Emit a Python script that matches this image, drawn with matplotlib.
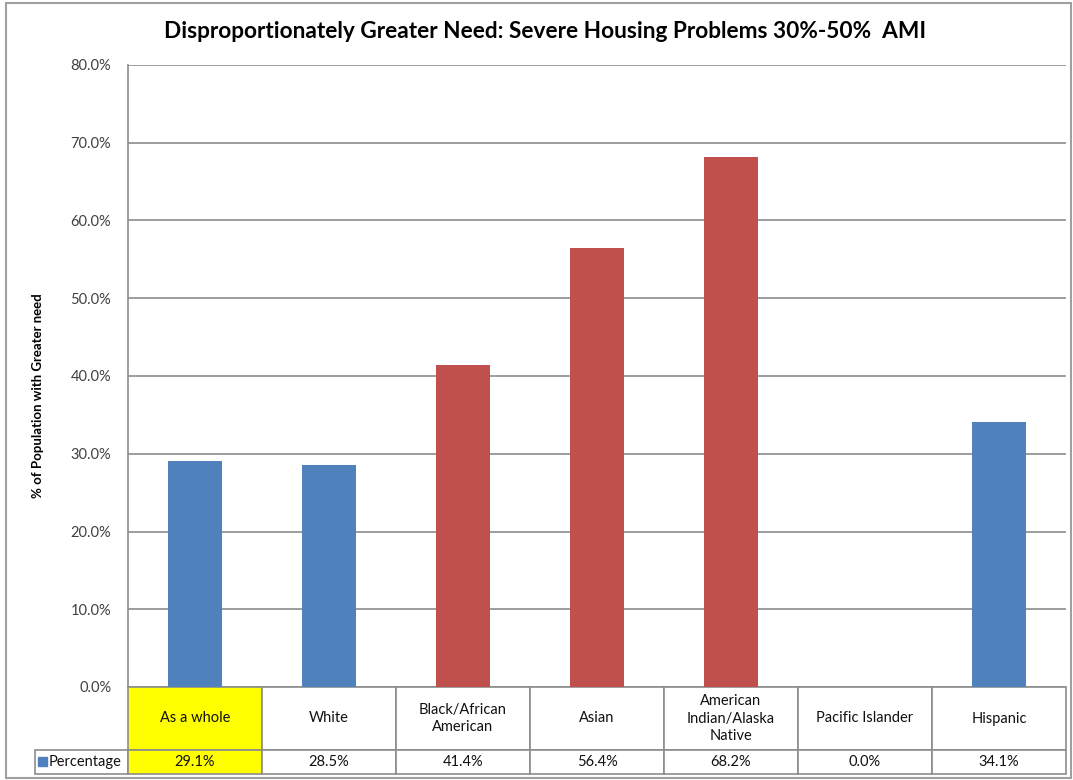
import matplotlib.pyplot as plt
from matplotlib.patches import Rectangle
from matplotlib.ticker import FuncFormatter

# --- Data ---
categories = ["As a whole", "White", "Black/African\nAmerican", "Asian",
              "American\nIndian/Alaska\nNative", "Pacific Islander", "Hispanic"]
values = [29.1, 28.5, 41.4, 56.4, 68.2, 0.0, 34.1]
bar_colors = ["#4F81BD", "#4F81BD", "#C0504D", "#C0504D", "#C0504D", "#4F81BD", "#4F81BD"]
series_name = "Percentage"
title = "Disproportionately Greater Need: Severe Housing Problems 30%-50%  AMI"
ylabel = "% of Population with Greater need"

plt.rcParams['font.family'] = ['Lato', 'DejaVu Sans']

W, H = 1073, 780
fig = plt.figure(figsize=(W / 100, H / 100), dpi=100)

# outer chart frame
fig.patches.append(Rectangle((6 / W, 2 / H), (W - 8) / W, (H - 5) / H,
                             transform=fig.transFigure, fill=False,
                             edgecolor="#A0A0A0", linewidth=1.5))

left, right, top, bottom = 128, 1066, 65, 687
ax = fig.add_axes([left / W, 1 - bottom / H, (right - left) / W, (bottom - top) / H])

x = list(range(len(categories)))
ax.bar(x, values, width=0.4, color=bar_colors, zorder=3)

ax.set_xlim(-0.5, len(categories) - 0.5)
ax.set_ylim(0, 80)
ax.set_yticks(range(0, 81, 10))
ax.yaxis.set_major_formatter(FuncFormatter(lambda v, p: f"{v:.1f}%"))
ax.tick_params(axis="y", length=0, pad=12, labelsize=10.5, labelcolor="#404040")
ax.set_xticks([])
ax.grid(axis="y", color="#8C8C8C", linewidth=1.2, zorder=0)
for s in ["top", "right", "bottom"]:
    ax.spines[s].set_visible(False)
ax.spines["left"].set_color("#8C8C8C")
ax.spines["left"].set_linewidth(1.2)

ax.set_ylabel(ylabel, fontsize=9.5, fontweight="bold")
ax.yaxis.set_label_coords((44 - left) / (right - left), (bottom - 396) / (bottom - top))

fig.text(545 / W, 1 - 32 / H, title, ha="center", va="center",
         fontsize=16.3, fontweight="bold")

# --- Data table under the axis ---
tbl_left, tbl_top, tbl_mid, tbl_bot = 35, 687, 750, 774
label_w = left - tbl_left
cell_w = (right - left) / len(categories)
ax_w, ax_h = right - left, bottom - top

cell_text = [[""] + categories, [""] + [f"{v:.1f}%" for v in values]]
table = ax.table(cellText=cell_text, cellLoc="center",
                 bbox=[(tbl_left - left) / ax_w, -(tbl_bot - bottom) / ax_h,
                       (right - tbl_left) / ax_w, (tbl_bot - bottom) / ax_h])
table.auto_set_font_size(False)
table.set_fontsize(10.5)
for (r, c), cell in table.get_celld().items():
    cell.set_width(label_w if c == 0 else cell_w)
    cell.set_height(tbl_mid - tbl_top if r == 0 else tbl_bot - tbl_mid)
    cell.set_edgecolor("#8C8C8C")
    cell.set_linewidth(1.2)
    cell.get_text().set_linespacing(1.3)
    cell.get_text().set_color("#111111")
    if c == 1:
        cell.set_facecolor("#FFFF00")
table[0, 0].visible_edges = ""

# legend key inside the label cell
fig.patches.append(Rectangle((38 / W, 1 - 766 / H), 9 / W, 9 / H,
                             transform=fig.transFigure, color="#4F81BD"))
fig.text(49 / W, 1 - 762 / H, series_name, ha="left", va="center",
         fontsize=10.5, color="#111111")

fig.savefig("out.png", dpi=100)
